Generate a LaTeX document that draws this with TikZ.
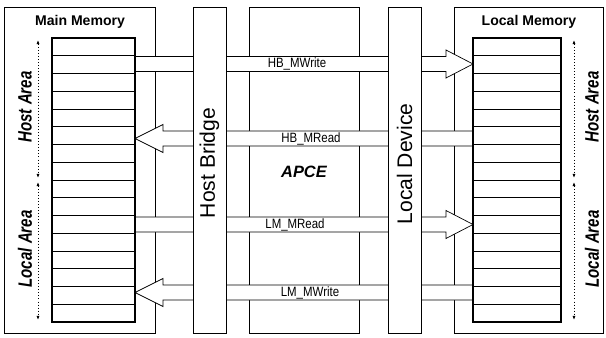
\documentclass[tikz,border=0pt]{standalone}
\usepackage{fontspec}
\setmainfont{Liberation Sans}
\newfontfamily\narrowfont[FakeStretch=0.85]{Liberation Sans}
\newfontfamily\areafont[FakeStretch=0.78]{Liberation Sans}
\usetikzlibrary{arrows.meta}

\begin{document}
\begin{tikzpicture}[x=0.03cm, y=-0.03cm, line join=miter,
    box/.style={draw, line width=0.5pt, fill=white},
    stack/.style={draw, line width=1pt, fill=white},
    bus/.style={draw, line width=0.6pt, fill=white},
    span/.style={dotted, line width=0.6pt, {Latex[length=3.5pt,width=2.6pt]}-{Latex[length=3.5pt,width=2.6pt]}},
    title/.style={font=\bfseries\fontsize{12}{14}\selectfont},
    unit/.style={rotate=90, font=\fontsize{18}{20}\selectfont},
    area/.style={rotate=90, font=\areafont\bfseries\itshape\fontsize{16.5}{18}\selectfont},
    sig/.style={font=\narrowfont\fontsize{11.5}{13}\selectfont, inner sep=0pt}]

  \useasboundingbox (0,0) rectangle (606,338);
  % memory boxes and the APCE block
  \draw[box] (4,7) rectangle (155,333);
  \draw[box] (454,7) rectangle (603,333);
  \draw[box] (249,7) rectangle (359,333);
  \node[font=\bfseries\itshape\fontsize{14}{16}\selectfont] (apce) at (304,172) {APCE};
  % buses to the local memory
  \foreach \yc/\lbl/\lx [count=\i] in {64/HB\_MWrite/297, 224.5/LM\_MRead/295}{
    \draw[bus] (135,\yc-7.5) -- (446,\yc-7.5) -- (446,\yc-14) -- (473,\yc)
      -- (446,\yc+14) -- (446,\yc+7.5) -- (135,\yc+7.5) -- cycle;
    \node[sig] (wr\i) at (\lx,\yc) {\lbl};
  }
  % buses to the main memory
  \foreach \yc/\lbl/\lx [count=\i] in {138.5/HB\_MRead/311, 292.5/LM\_MWrite/310}{
    \draw[bus] (473,\yc-7.5) -- (163,\yc-7.5) -- (163,\yc-14) -- (135,\yc)
      -- (163,\yc+14) -- (163,\yc+7.5) -- (473,\yc+7.5) -- cycle;
    \node[sig] (rd\i) at (\lx,\yc) {\lbl};
  }
  % bridge and device columns
  \draw[box] (193,7) rectangle (226,333);
  \node[unit] (bridge) at (209.5,163) {Host Bridge};
  \draw[box] (388,7) rectangle (421,333);
  \node[unit] (device) at (404.5,164) {Local Device};
  % memory stacks
  \draw[stack] (52,38) rectangle (135,322);
  \draw[stack] (473,38) rectangle (561,322);
  \foreach \k in {1,...,15}{
    \draw[line width=0.6pt] (52,38+17.75*\k) -- (135,38+17.75*\k);
    \draw[line width=0.6pt] (473,38+17.75*\k) -- (561,38+17.75*\k);
  }
  \node[title] (mainmem) at (80,22) {Main Memory};
  \node[title] (localmem) at (529,22) {Local Memory};
  % host and local areas
  \foreach \xa/\xt in {38/25, 574/592}{
    \draw[span] (\xa,40) -- (\xa,178);
    \draw[span] (\xa,182) -- (\xa,320);
    \node[area] at (\xt,107) {Host Area};
    \node[area] at (\xt,249) {Local Area};
  }
\end{tikzpicture}
\end{document}
